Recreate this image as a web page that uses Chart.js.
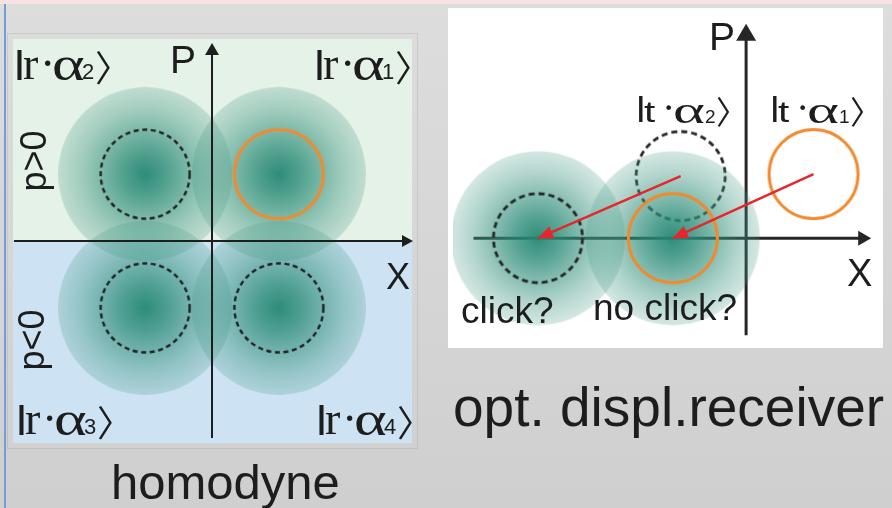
<!DOCTYPE html>
<html>
<head>
<meta charset="utf-8">
<script src="https://cdn.jsdelivr.net/npm/chart.js@4.4.1/dist/chart.umd.min.js"></script>
<style>
  html, body { margin: 0; padding: 0; }
  body {
    width: 892px; height: 508px; position: relative; overflow: hidden;
    background: linear-gradient(#dddddd, #cfcfcf);
    font-family: "Liberation Sans", Arial, sans-serif; color: #1d1d1d;
  }
  #strip { position: absolute; left: 0; top: 0; width: 892px; height: 4px; background: #f6e2e2; }
  #edge { position: absolute; left: 4px; top: 4px; width: 2px; height: 504px; background: #6f9fd6; }
  #homodyne { position: absolute; left: 8px; top: 34px; box-shadow: 0 0 0 1px rgba(0,0,0,0.08); }
  #receiver { position: absolute; left: 448px; top: 8px; background: #ffffff; }
  .lbl { position: absolute; white-space: nowrap; line-height: 1; }
  .ket { position: absolute; width: 0; height: 0; }
  .ket span { position: absolute; line-height: 1; white-space: nowrap; color: #1d1d1d; }
  .rot { transform: translate(-50%, -50%) rotate(-90deg); }
</style>
</head>
<body>
<div id="strip"></div>
<div id="edge"></div>
<canvas id="homodyne" width="409" height="414"></canvas>
<canvas id="receiver" width="435" height="340"></canvas>

<div class="lbl" style="left:170px;top:40px;font-size:39px;">P</div>
<div class="lbl" style="left:386px;top:259px;font-size:36px;">X</div>
<div class="lbl rot" style="left:34px;top:161px;font-size:36px;">p&gt;0</div>
<div class="lbl rot" style="left:32px;top:340px;font-size:36px;">p&lt;0</div>
<div class="lbl" style="left:111px;top:458px;font-size:49px;">homodyne</div>

<div class="lbl" style="left:709px;top:17px;font-size:39px;">P</div>
<div class="lbl" style="left:847px;top:254px;font-size:38px;">X</div>
<div class="lbl" style="left:461px;top:292px;font-size:37px;">click?</div>
<div class="lbl" style="left:593px;top:289px;font-size:37px;">no click?</div>
<div class="lbl" style="left:453px;top:380px;font-size:55px;">opt. displ.receiver</div>

<script>
// ---- homodyne panel: the four coherent states r·α1..r·α4 in phase space ----
const homodyneX = [0.685, -0.685, -0.685, 0.685];
const homodyneP = [0.685, 0.685, -0.685, -0.685];
const homodyneKets = ['1', '2', '3', '4'];
const homodyneSent = 0;            // index of the state drawn with the solid ring

// ---- displacement receiver: input states t·α1, t·α2 and their displaced copies ----
const inputX = [0.69, -0.67];
const inputP = [0.66, 0.64];
const displacedX = [-0.75, -2.13];
const displacedP = [0.0, 0.0];
const receiverKets = ['1', '2'];

// style constants (quadrature units)
const BLOB_R = 0.87;
const RING_R = 0.445;

function blobImage(rPx) {
  const s = Math.ceil(rPx * 2);
  const c = document.createElement('canvas');
  c.width = s; c.height = s;
  const g = c.getContext('2d');
  const grad = g.createRadialGradient(s / 2, s / 2, 0, s / 2, s / 2, rPx);
  grad.addColorStop(0.00, 'rgba(38,136,116,0.96)');
  grad.addColorStop(0.25, 'rgba(44,140,120,0.80)');
  grad.addColorStop(0.50, 'rgba(52,145,125,0.60)');
  grad.addColorStop(0.75, 'rgba(62,150,130,0.40)');
  grad.addColorStop(1.00, 'rgba(72,155,136,0.24)');
  g.fillStyle = grad;
  g.beginPath(); g.arc(s / 2, s / 2, rPx, 0, Math.PI * 2); g.fill();
  return c;
}

function ringImage(rPx, color, width, dash) {
  const s = Math.ceil(rPx * 2 + width * 2 + 2);
  const c = document.createElement('canvas');
  c.width = s; c.height = s;
  const g = c.getContext('2d');
  g.strokeStyle = color; g.lineWidth = width;
  if (dash) g.setLineDash(dash);
  g.beginPath(); g.arc(s / 2, s / 2, rPx, 0, Math.PI * 2); g.stroke();
  return c;
}

function drawArrowHead(ctx, tx, ty, fx, fy, len, half, color) {
  const a = Math.atan2(ty - fy, tx - fx);
  ctx.save();
  ctx.translate(tx, ty); ctx.rotate(a);
  ctx.fillStyle = color;
  ctx.beginPath();
  ctx.moveTo(0, 0); ctx.lineTo(-len, -half); ctx.lineTo(-len, half);
  ctx.closePath(); ctx.fill();
  ctx.restore();
}

// axes through the origin with arrow tips, placed by the chart's own scales
function axesPlugin(spec, hook) {
  return {
    id: 'phaseAxes',
    [hook](chart) {
      const { ctx, scales: { x, y } } = chart;
      const x0 = x.getPixelForValue(0), y0 = y.getPixelForValue(0);
      ctx.save();
      ctx.strokeStyle = spec.color; ctx.lineWidth = spec.width;
      const xa = x.getPixelForValue(spec.x[0]), xb = x.getPixelForValue(spec.x[1]);
      const ya = y.getPixelForValue(spec.y[0]), yb = y.getPixelForValue(spec.y[1]);
      ctx.beginPath();
      ctx.moveTo(xa, y0); ctx.lineTo(xb - spec.xHead[0] + 2, y0);
      ctx.moveTo(x0, ya); ctx.lineTo(x0, yb + spec.yHead[0] - 2);
      ctx.stroke();
      drawArrowHead(ctx, xb, y0, xa, y0, spec.xHead[0], spec.xHead[1], spec.color);
      drawArrowHead(ctx, x0, yb, x0, ya, spec.yHead[0], spec.yHead[1], spec.color);
      ctx.restore();
    }
  };
}

const quadrantShade = {
  id: 'quadrantShade',
  beforeDraw(chart) {
    const { ctx, chartArea: a, scales: { y } } = chart;
    const y0 = y.getPixelForValue(0);
    ctx.save();
    ctx.fillStyle = '#e5f2e7';
    ctx.fillRect(a.left, a.top, a.right - a.left, y0 - a.top);
    ctx.fillStyle = '#cde3f4';
    ctx.fillRect(a.left, y0, a.right - a.left, a.bottom - y0);
    ctx.restore();
  }
};

const arrowHeads = {
  id: 'arrowHeads',
  afterDatasetsDraw(chart) {
    chart.data.datasets.forEach((ds, i) => {
      if (!ds.arrow) return;
      const pts = chart.getDatasetMeta(i).data;
      const a = pts[0], b = pts[pts.length - 1];
      drawArrowHead(chart.ctx, b.x, b.y, a.x, a.y, 15, 6.5, ds.borderColor);
    });
  }
};

const baseOptions = (xr, yr) => ({
  responsive: false,
  animation: false,
  events: [],
  layout: { padding: 0 },
  plugins: { legend: { display: false }, tooltip: { enabled: false } },
  scales: {
    x: { type: 'linear', min: xr[0], max: xr[1], display: false },
    y: { type: 'linear', min: yr[0], max: yr[1], display: false }
  }
});

// ---------- homodyne chart ----------
const hXR = [-2.04, 2.05], hYR = [-2.07, 2.07];
const hUnit = 409 / (hXR[1] - hXR[0]);
const hBlob = blobImage(BLOB_R * hUnit);
const hDashed = ringImage(RING_R * hUnit, '#222222', 2.4, [5, 3.6]);
const hSolid = ringImage(RING_R * hUnit, '#f18a2e', 3, null);
const hPts = homodyneX.map((v, i) => ({ x: v, y: homodyneP[i] }));

new Chart(document.getElementById('homodyne'), {
  type: 'scatter',
  data: {
    datasets: [
      { label: 'rings', data: hPts, order: 1, pointRadius: 2,
        pointStyle: hPts.map((_, i) => i === homodyneSent ? hSolid : hDashed) },
      { label: 'states', data: hPts, order: 2, pointRadius: 2, pointStyle: hBlob }
    ]
  },
  options: baseOptions(hXR, hYR),
  plugins: [quadrantShade,
    axesPlugin({ color: '#1e1e1e', width: 2, x: [-2.03, 2.06], y: [-2.02, 2.03],
                 xHead: [11, 6], yHead: [12, 7] }, 'afterDatasetsDraw')]
});

// ---------- displacement receiver chart ----------
const rXR = [-3.00, 1.35], rYR = [-1.08, 2.32];
const rUnit = 435 / (rXR[1] - rXR[0]);
const rBlob = blobImage(BLOB_R * rUnit);
const rDashed = ringImage(RING_R * rUnit, '#262626', 2.8, [6, 4]);
const rSolid = ringImage(RING_R * rUnit, '#f18a2e', 3, null);
const inPts = inputX.map((v, i) => ({ x: v, y: inputP[i] }));
const outPts = displacedX.map((v, i) => ({ x: v, y: displacedP[i] }));
const ringStyle = [rSolid, rDashed];

new Chart(document.getElementById('receiver'), {
  type: 'scatter',
  data: {
    datasets: [
      ...inPts.map((p, i) => ({
        type: 'line', label: 'D' + (i + 1), arrow: true, order: 1,
        data: [p, outPts[i]], showLine: true, borderColor: '#e5262a', borderWidth: 2.4,
        pointRadius: 0, fill: false
      })),
      { label: 'displaced rings', data: outPts, order: 2, pointRadius: 2, pointStyle: ringStyle },
      { label: 'displaced states', data: outPts, order: 3, pointRadius: 2, pointStyle: rBlob },
      { label: 'input rings', data: inPts, order: 4, pointRadius: 2, pointStyle: ringStyle }
    ]
  },
  options: baseOptions(rXR, rYR),
  plugins: [
    axesPlugin({ color: '#262626', width: 3, x: [-2.79, 1.28], y: [-1.0, 2.21],
                 xHead: [13, 7.5], yHead: [17, 10] }, 'beforeDatasetsDraw'),
    arrowHeads]
});

// ---------- ket labels ----------
function ket(x, y, parts) {
  const d = document.createElement('div');
  d.className = 'ket';
  d.style.left = x + 'px'; d.style.top = y + 'px';
  parts.forEach(([t, fam, size, dx, dy, sx, w]) => {
    const s = document.createElement('span');
    s.textContent = t;
    s.style.fontFamily = fam;
    s.style.fontSize = size + 'px';
    if (w) s.style.fontWeight = w;
    s.style.left = dx + 'px';
    s.style.top = (dy - 0.845 * size) + 'px';
    if (sx) { s.style.transform = 'scaleX(' + sx + ')'; s.style.transformOrigin = 'left'; }
    d.appendChild(s);
  });
  document.body.appendChild(d);
}

const SANS = '"Liberation Sans", Arial, sans-serif';
const SERIF = '"Liberation Serif", "Times New Roman", serif';
const CJK = '"Noto Sans CJK JP", "Noto Sans CJK SC", sans-serif';

const homodyneKetPos = [[315, 80], [15, 80], [17, 435], [317, 435]];
homodyneKets.forEach((n, i) => {
  const [x, y] = homodyneKetPos[i];
  ket(x, y, [
    ['|', SANS, 32, 0, -7, 0, 700],
    ['r', SERIF, 46, 8, 0],
    ['·', SERIF, 46, 25, 0],
    ['α', SERIF, 48, 37, 1, 1.3],
    [n, SANS, 22, 67, 0],
    ['〉', CJK, 36, 80, -2]
  ]);
});

const receiverKetPos = [[771, 122], [637, 122]];
receiverKets.forEach((n, i) => {
  const [x, y] = receiverKetPos[i];
  ket(x, y, [
    ['|', SANS, 27, 0, -5, 0, 700],
    ['t', SANS, 30, 7, 0, 1.35],
    ['·', SERIF, 40, 25, 0],
    ['α', SERIF, 38, 36, 1, 1.6],
    [n, SANS, 19, 68, 1],
    ['〉', CJK, 32, 79, -1]
  ]);
});
</script>
</body>
</html>
